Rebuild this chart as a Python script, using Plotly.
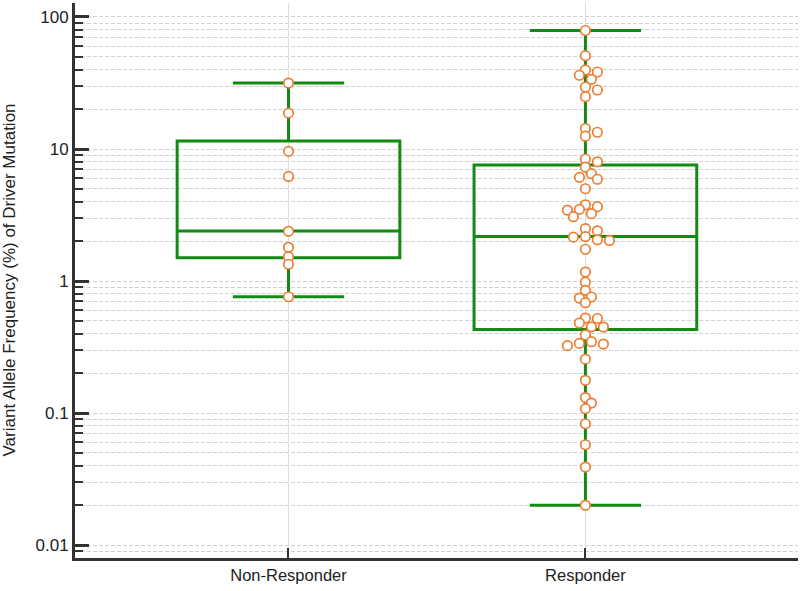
import numpy as np
import plotly.graph_objects as go

GROUPS = ["Non-Responder", "Responder"]

# VAF (%) per patient
NON_RESPONDER = [31.6, 18.7, 9.6, 6.2, 2.38, 1.80, 1.53, 1.34, 0.76]
RESPONDER = [
    79.0, 50.9, 39.7, 38.3, 36.2, 33.7, 29.5, 28.0, 24.9,
    14.3, 13.4, 12.5, 8.4, 8.0, 7.3, 6.5, 6.1, 5.9, 5.0,
    3.78, 3.66, 3.49, 3.45, 3.24, 3.07, 2.49, 2.40, 2.17, 2.15,
    2.05, 2.03, 1.74, 1.17, 0.98, 0.85, 0.757, 0.743, 0.685,
    0.524, 0.52, 0.481, 0.45, 0.448, 0.39, 0.347, 0.337, 0.333, 0.324,
    0.256, 0.177, 0.131, 0.119, 0.108, 0.083, 0.0575, 0.039, 0.02,
]

# box statistics as drawn
BOX_LOW = [0.76, 0.02]
BOX_Q1 = [1.50, 0.43]
BOX_MEDIAN = [2.39, 2.17]
BOX_Q3 = [11.5, 7.57]
BOX_HIGH = [31.6, 79.0]

Y_TICKS = [0.01, 0.1, 1, 10, 100]
Y_TICK_TEXT = ["0.01", "0.1", "1", "10", "100"]
Y_TITLE = "Variant Allele Frequency (%) of Driver Mutation"

GREEN = "#138a13"
ORANGE = "#ed7d31"
AXIS = "#333333"
GRID = "#d2d2d2"
FONT = "Arial, Liberation Sans, sans-serif"

W, H = 800, 591
M = dict(l=75, r=2, t=3, b=33)
X_RANGE = [-0.719, 1.716]
Y_RANGE = [-2.098, 2.106]
px_per_x = (W - M["l"] - M["r"]) / (X_RANGE[1] - X_RANGE[0])
px_per_dec = (H - M["t"] - M["b"]) / (Y_RANGE[1] - Y_RANGE[0])


def swarm(values, slot=6.0, min_dist=7.5):
    # simple beeswarm: place points top-down into 6px slots, nearest free slot wins
    ys = np.log10(values) * px_per_dec
    offs = np.zeros(len(values))
    placed = []
    for i in np.argsort(-ys):
        for k in [0, 1, -1, 2, -2, 3, -3, 4, -4, 5, -5]:
            x = k * slot
            if all((x - px) ** 2 + (ys[i] - py) ** 2 >= min_dist ** 2 for px, py in placed):
                break
        placed.append((x, ys[i]))
        offs[i] = x
    return offs / px_per_x


fig = go.Figure()

for i, name in enumerate(GROUPS):
    fig.add_trace(go.Box(
        x=[i], q1=[BOX_Q1[i]], median=[BOX_MEDIAN[i]], q3=[BOX_Q3[i]],
        lowerfence=[BOX_LOW[i]], upperfence=[BOX_HIGH[i]],
        width=0.75, whiskerwidth=0.5,
        line=dict(color=GREEN, width=3), fillcolor="rgba(0,0,0,0)",
        boxpoints=False, name=name, showlegend=False,
    ))

for i, vals in enumerate([NON_RESPONDER, RESPONDER]):
    fig.add_trace(go.Scatter(
        x=i + swarm(vals), y=vals, mode="markers",
        marker=dict(symbol="circle", size=9.5, color="white",
                    line=dict(color=ORANGE, width=1.7)),
        showlegend=False, cliponaxis=False,
    ))

minor_vals = [k * 10.0 ** e for e in range(-3, 3) for k in range(2, 10)]

fig.update_layout(
    width=W, height=H, margin=M,
    paper_bgcolor="white", plot_bgcolor="white",
    font=dict(family=FONT, size=16, color="#222222"),
    xaxis=dict(
        range=X_RANGE, tickmode="array", tickvals=[0, 1], ticktext=GROUPS,
        tickfont=dict(size=16.5),
        showline=True, linecolor=AXIS, linewidth=3, automargin=False,
        ticks="inside", ticklen=10, tickwidth=2, tickcolor=AXIS,
        showgrid=True, gridcolor="#dddddd", gridwidth=1, zeroline=False,
    ),
    yaxis=dict(
        type="log", range=Y_RANGE, tickmode="array", automargin=False,
        tickvals=Y_TICKS, ticktext=Y_TICK_TEXT, ticklabelstandoff=0,
        tickfont=dict(size=17),
        showline=True, linecolor=AXIS, linewidth=3,
        ticks="inside", ticklen=14, tickwidth=2.5, tickcolor=AXIS,
        showgrid=True, gridcolor=GRID, gridwidth=1, griddash="4px,2px",
        zeroline=False,
        minor=dict(tickmode="array", tickvals=minor_vals, ticks="inside",
                   ticklen=8, tickwidth=2, tickcolor=AXIS,
                   showgrid=True, gridcolor=GRID, gridwidth=1, griddash="4px,2px"),
    ),
)

# y title as a rotated annotation so it can sit near the left edge like the original
fig.add_annotation(
    text=Y_TITLE, textangle=-90, x=0, xref="paper", y=0.5, yref="paper",
    xanchor="center", yanchor="middle", xshift=-66, showarrow=False,
    font=dict(size=17),
)

# page body has an 8px default margin; drop it so the chart sits at 0,0
fig.write_html("out.html", config={"displayModeBar": False},
               post_script="document.body.style.margin='0px';")
